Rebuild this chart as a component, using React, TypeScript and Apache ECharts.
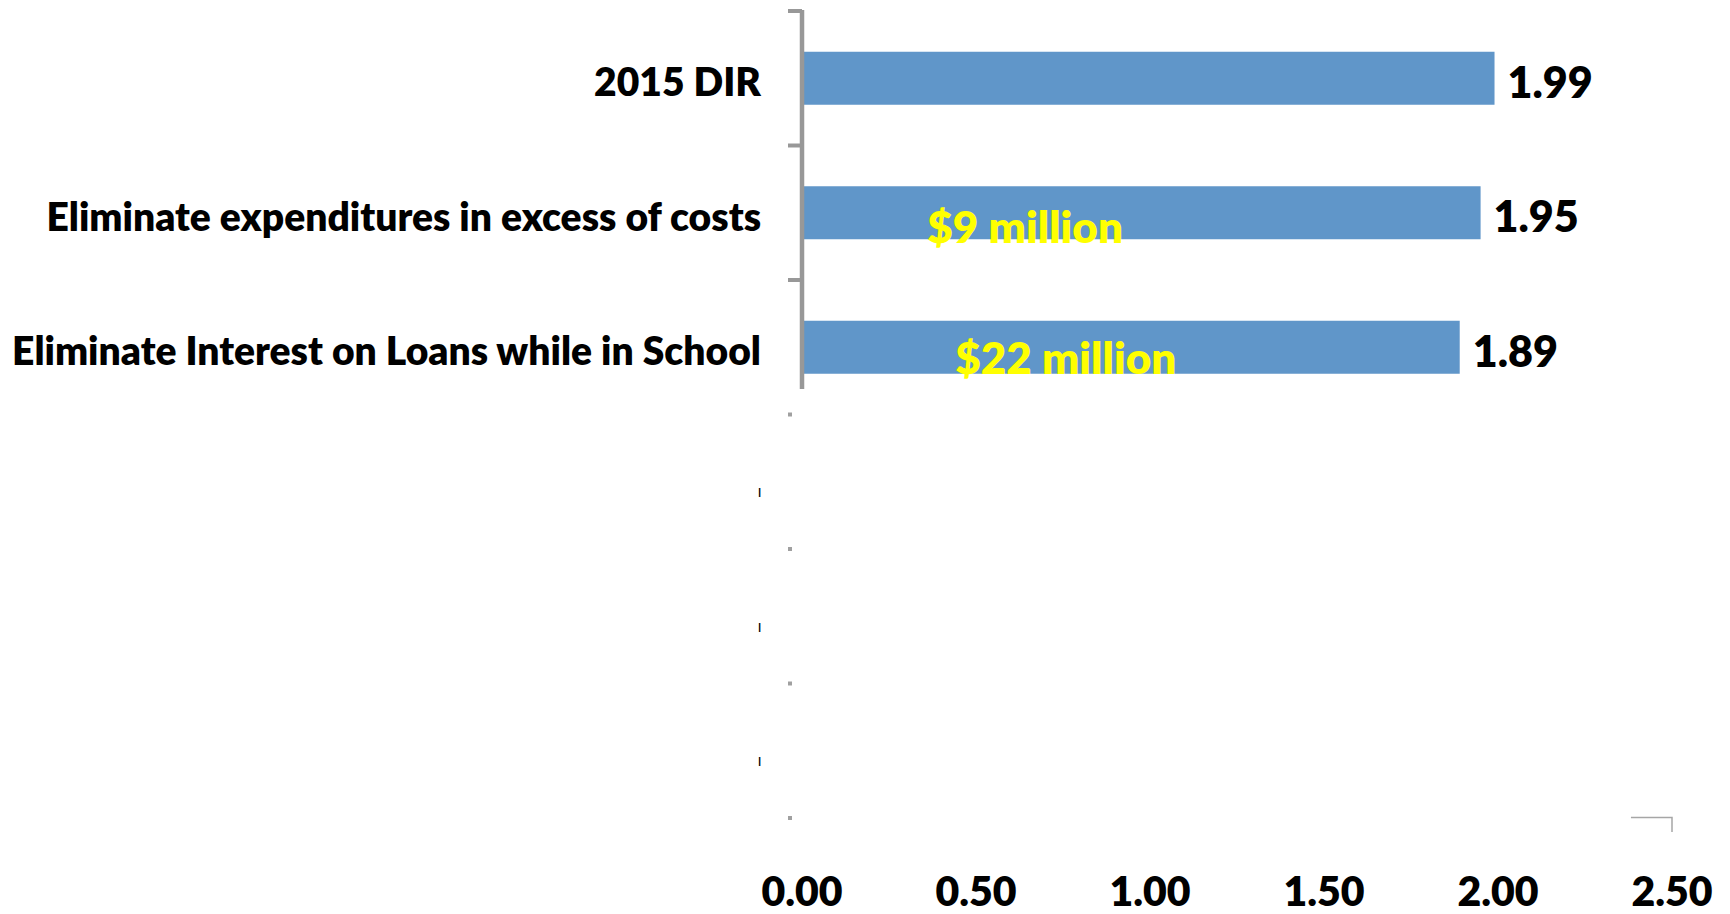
import React, { useEffect, useRef } from 'react';
import * as echarts from 'echarts';

// ---- data ----
const categories: string[] = [
  '2015 DIR',
  'Eliminate expenditures in excess of costs',
  'Eliminate Interest on Loans while in School',
  ' ',
  '  ',
  '   ',
];
const values: number[] = [1.99, 1.95, 1.89];
const annotationTexts: string[] = ['$9 million', '$22 million'];
const annotationCategory: number[] = [1, 2];
const annotationStart: number[] = [0.36, 0.44];
const xMin = 0;
const xMax = 2.5;
const xStep = 0.5;

const FONT = 'Lato, "Open Sans", sans-serif';
const BAR_COLOR = '#6096C9';
const AXIS_GREY = '#989898';
const WEIGHT = 800;

export default function App() {
  const ref = useRef<HTMLDivElement>(null);

  useEffect(() => {
    if (!ref.current) return;
    const chart = echarts.init(ref.current, undefined, { renderer: 'svg' });

    const annotationOffsets = [
      [0, 13],
      [0, 10],
    ];

    chart.setOption({
      animation: false,
      backgroundColor: '#ffffff',
      grid: { left: 802, top: 11, width: 870, height: 807, outerBoundsMode: 'none' },
      xAxis: {
        type: 'value',
        min: xMin,
        max: xMax,
        interval: xStep,
        axisLine: { show: false },
        axisTick: { show: false },
        splitLine: { show: false },
        axisLabel: {
          formatter: (v: number) => v.toFixed(2),
          fontFamily: FONT,
          fontSize: 41,
          fontWeight: WEIGHT,
          color: '#000',
          margin: 52,
        },
      },
      yAxis: {
        type: 'category',
        inverse: true,
        data: categories,
        axisLine: { show: false },
        axisTick: { show: false },
        splitLine: { show: false },
        axisLabel: {
          interval: 0,
          fontFamily: FONT,
          fontSize: 39,
          fontWeight: WEIGHT,
          color: '#000',
          margin: 41,
          padding: [6, 0, 0, 0],
          formatter: (v: string) => (v.trim() === '' ? '{m|l}' : v),
          rich: {
            m: {
              fontFamily: FONT,
              fontSize: 11,
              fontWeight: 'bold',
              color: '#000',
              padding: [16, 0, 0, 0],
            },
          },
        },
      },
      series: [
        {
          type: 'bar',
          data: values,
          barWidth: 53,
          itemStyle: { color: BAR_COLOR },
          z: 2,
          label: {
            show: true,
            position: 'right',
            distance: 13,
            offset: [0, 3],
            formatter: (p: any) => Number(p.value).toFixed(2),
            fontFamily: FONT,
            fontSize: 43,
            fontWeight: WEIGHT,
            color: '#000',
          },
        },
        {
          type: 'scatter',
          symbolSize: 0.1,
          itemStyle: { color: 'transparent', opacity: 1 },
          z: 5,
          data: annotationTexts.map((t, i) => ({
            value: [annotationStart[i], annotationCategory[i]],
            name: t,
            label: { offset: annotationOffsets[i] },
          })),
          label: {
            show: true,
            position: 'right',
            distance: 0,
            opacity: 1,
            formatter: (p: any) => p.name,
            fontFamily: FONT,
            fontSize: 44,
            fontWeight: WEIGHT,
            color: '#FFFF00',
          },
        },
      ],
    });

    // axis decorations computed from the library's scales
    const x0 = chart.convertToPixel({ xAxisIndex: 0 }, xMin) as number;
    const xEnd = chart.convertToPixel({ xAxisIndex: 0 }, xMax) as number;
    const xSeg = chart.convertToPixel({ xAxisIndex: 0 }, 2.382) as number;
    const yc = (i: number) => chart.convertToPixel({ yAxisIndex: 0 }, i) as number;
    const band = yc(1) - yc(0);
    const top = yc(0) - band / 2;
    const bottom = top + band * categories.length;
    const graphics: any[] = [];
    graphics.push({
      type: 'line',
      z: 20,
      shape: { x1: x0, y1: top - 1, x2: x0, y2: yc(2) + 0.31 * band },
      style: { stroke: AXIS_GREY, lineWidth: 4.5 },
    });
    for (let i = 0; i < 3; i++) {
      const y = top + i * band;
      graphics.push({
        type: 'line',
        z: 20,
        shape: { x1: x0 - 14, y1: y, x2: x0, y2: y },
        style: { stroke: AXIS_GREY, lineWidth: 4 },
      });
    }
    for (let i = 3; i <= categories.length; i++) {
      const y = top + i * band;
      graphics.push({
        type: 'rect',
        z: 20,
        shape: { x: x0 - 14, y: y - 2, width: 4, height: 4 },
        style: { fill: '#a0a0a0' },
      });
    }
    graphics.push({
      type: 'polyline',
      z: 20,
      shape: { points: [[xSeg, bottom - 0.5], [xEnd, bottom - 0.5], [xEnd, bottom + 14]] },
      style: { stroke: '#a6a6a6', lineWidth: 1.5, fill: 'none' },
    });
    chart.setOption({ graphic: graphics });

    return () => chart.dispose();
  }, []);

  return (
    <div
      ref={ref}
      style={{ position: 'fixed', left: 0, top: 0, width: 1730, height: 914, background: '#fff' }}
    />
  );
}
